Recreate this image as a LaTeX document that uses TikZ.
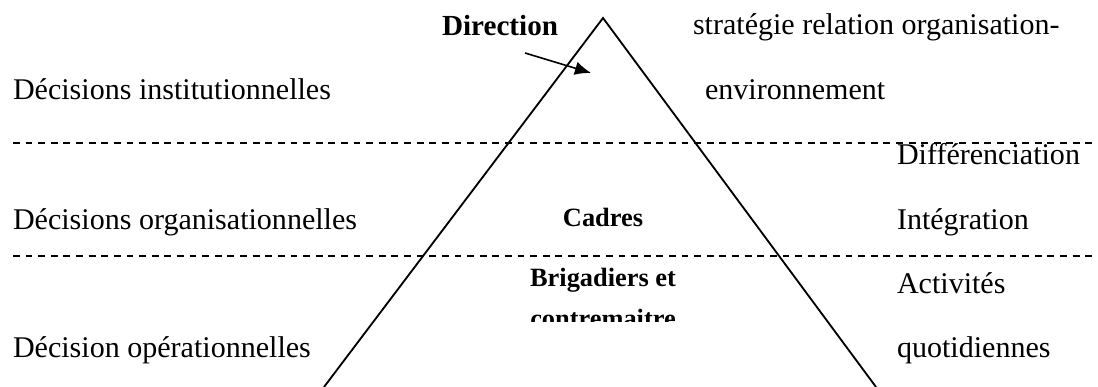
\documentclass[tikz,border=0pt]{standalone}
\usepackage{fontspec}
\setmainfont{Liberation Serif}
\usepackage{tikz}
\usetikzlibrary{arrows.meta}
\tikzstyle{leveltext}=[inner sep=0, outer sep=0, anchor=base west, font=\fontsize{13.1}{15}\selectfont]
\tikzstyle{roletext}=[inner sep=0, outer sep=0, anchor=base, font=\fontsize{11.5}{16}\selectfont\bfseries]
\tikzstyle{separator}=[line width=0.6pt, dash pattern=on 3pt off 2.5pt]
\tikzstyle{pyramid}=[line width=0.8pt, line join=miter]
\tikzstyle{hierarchy}=[x=0.436pt, y=-0.436pt,
                       % Fix the page to the reference size.
                       execute at begin picture={\useasboundingbox (0, 0) rectangle (1098, 387);}]
\begin{document}
\begin{tikzpicture}[hierarchy]
        \coordinate (apex) at (603, 18);
        \coordinate (baseL) at (324, 387);
        \coordinate (baseR) at (876, 387);
        \draw[pyramid] (baseL) -- (apex) -- (baseR);
        \draw[separator] (13, 143) -- (1096, 143);
        \draw[separator] (13, 256) -- (1096, 256);
        % Left column.
        \node[leveltext] (inst) at (13, 100) {Décisions institutionnelles};
        \node[leveltext] (orga) at (13, 230) {Décisions organisationnelles};
        \node[leveltext] (oper) at (13, 357) {Décision opérationnelles};
        % Right column.
        \node[leveltext] (strat) at (693, 35) {stratégie relation organisation-};
        \node[leveltext] (env) at (705, 100) {environnement};
        \node[leveltext] (diff) at (897, 165) {Différenciation};
        \node[leveltext] (integ) at (897, 230) {Intégration};
        \node[leveltext] (activ) at (897, 293) {Activités};
        \node[leveltext] (quot) at (897, 357) {quotidiennes};
        % Inside the pyramid.
        \node[leveltext, anchor=base east, font=\fontsize{12.7}{15}\selectfont\bfseries] (dir) at (558, 36) {Direction};
        \coordinate (dirtail) at (525, 53);
        \coordinate (dirtip) at (591, 73);
        \draw[-{Latex[length=7pt, width=6pt]}, line width=0.7pt] (dirtail) -- (dirtip);
        \node[roletext] (cadres) at (603, 227) {Cadres};
        \node[roletext] (brig) at (603, 287) {Brigadiers et};
        \begin{scope}
            \clip (450, 260) rectangle (760, 321);
            \node[roletext] (contre) at (603, 327) {contremaitre};
        \end{scope}
    \end{tikzpicture}
\end{document}
